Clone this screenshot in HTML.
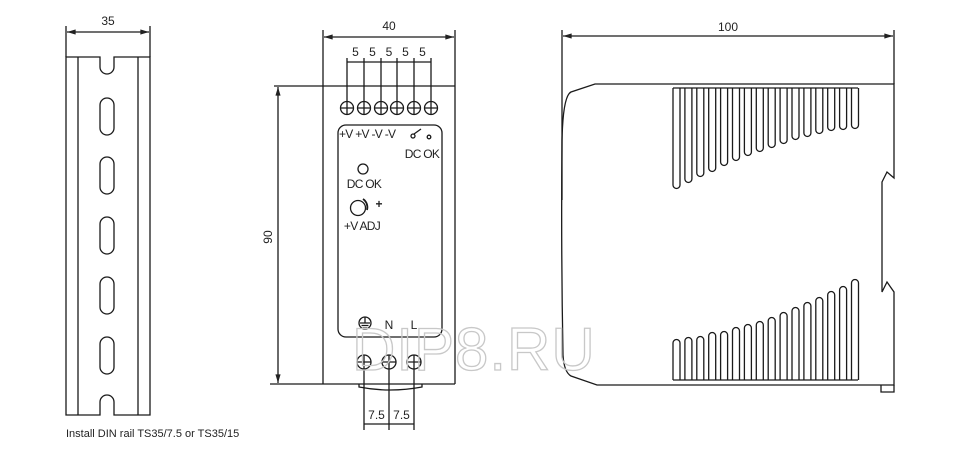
<!DOCTYPE html>
<html><head><meta charset="utf-8"><style>
html,body{margin:0;padding:0;background:#fff;}
svg{display:block;}
text{font-family:"Liberation Sans",Arial,sans-serif;fill:#222;}
</style></head><body>
<svg width="956" height="459" viewBox="0 0 956 459" xmlns="http://www.w3.org/2000/svg">
<defs>
<marker id="ar" viewBox="0 0 10 6" refX="10" refY="3" markerWidth="8" markerHeight="4" orient="auto-start-reverse"><path d="M0,0 L10,3 L0,6 z" fill="#222"/></marker>
</defs>
<g stroke="#1a1a1a" stroke-width="1.3" fill="none">
<!-- DIN rail -->
<line x1="66" y1="26" x2="66" y2="57"/><line x1="150" y1="26" x2="150" y2="57"/>
<line x1="67" y1="32" x2="149" y2="32" marker-start="url(#ar)" marker-end="url(#ar)"/>
<path d="M66,57 H100 V67 A7,7 0 0 0 114,67 V57 H150 V415 H114 V402 A7,7 0 0 0 100,402 V415 H66 Z"/>
<line x1="78" y1="57" x2="78" y2="415"/><line x1="138" y1="57" x2="138" y2="415"/>
<rect x="100" y="98" width="14" height="37" rx="7"/>
<rect x="100" y="157" width="14" height="37" rx="7"/>
<rect x="100" y="217" width="14" height="37" rx="7"/>
<rect x="100" y="277" width="14" height="37" rx="7"/>
<rect x="100" y="337" width="14" height="37" rx="7"/>

<!-- Front view -->
<line x1="323" y1="30" x2="323" y2="384"/>
<line x1="455" y1="30" x2="455" y2="384"/>
<line x1="324" y1="37" x2="454" y2="37" marker-start="url(#ar)" marker-end="url(#ar)"/>
<line x1="274" y1="86" x2="455" y2="86"/>
<line x1="270" y1="384" x2="323" y2="384"/>
<line x1="278" y1="87" x2="278" y2="383" marker-start="url(#ar)" marker-end="url(#ar)"/>
<path d="M323,384 H455"/>
<path d="M359,384 V387 Q390,393 422,387 V384"/>
<g>
<line x1="347" y1="58" x2="347" y2="101"/><line x1="364" y1="58" x2="364" y2="101"/>
<line x1="381" y1="58" x2="381" y2="101"/><line x1="397" y1="58" x2="397" y2="101"/>
<line x1="414" y1="58" x2="414" y2="101"/><line x1="431" y1="58" x2="431" y2="101"/>
<line x1="347" y1="62" x2="431" y2="62"/>
</g>
<g>
<circle cx="347" cy="108" r="6.5"/><path d="M340.5,108H353.5M347,101.5V114.5"/>
<circle cx="364" cy="108" r="6.5"/><path d="M357.5,108H370.5M364,101.5V114.5"/>
<circle cx="381" cy="108" r="6.5"/><path d="M374.5,108H387.5M381,101.5V114.5"/>
<circle cx="397" cy="108" r="6.5"/><path d="M390.5,108H403.5M397,101.5V114.5"/>
<circle cx="414" cy="108" r="6.5"/><path d="M407.5,108H420.5M414,101.5V114.5"/>
<circle cx="431" cy="108" r="6.5"/><path d="M424.5,108H437.5M431,101.5V114.5"/>
</g>
<rect x="338" y="125" width="104" height="212" rx="8"/>
<circle cx="413" cy="136" r="2"/><line x1="414" y1="134" x2="421" y2="129"/><circle cx="429" cy="137" r="1.8"/>
<circle cx="363" cy="169" r="5"/>
<circle cx="358" cy="208" r="7.5"/>
<path d="M363,199 A10,10 0 0 1 367,210" stroke-width="1.8"/>
<circle cx="364" cy="362" r="7"/><path d="M357,362H371M364,355V369"/>
<circle cx="389" cy="362" r="7"/><path d="M382,362H396M389,355V369"/>
<circle cx="414" cy="362" r="7"/><path d="M407,362H421M414,355V369"/>
<circle cx="365" cy="323" r="6"/><path d="M360,323H370M361.5,325.5H368.5M363,328H367M365,317V323"/>
<line x1="364" y1="369" x2="364" y2="430"/><line x1="389" y1="369" x2="389" y2="430"/><line x1="414" y1="369" x2="414" y2="430"/>
<line x1="364" y1="424" x2="414" y2="424"/>

<!-- Side view -->
<line x1="562" y1="30" x2="562" y2="200"/><line x1="894" y1="30" x2="894" y2="84"/>
<line x1="563" y1="36" x2="893" y2="36" marker-start="url(#ar)" marker-end="url(#ar)"/>
<path d="M673,84 H595 L571,92 Q563,96 562,140 Q561,250 563,355 Q564,372 571,376 L597,385 H673"/>
<path d="M855,84 H894 V178 L887,172 L882,182 V292 L887,282 L894,292 V385 H855"/>
<path d="M881,385 V392 H894 V385"/>
<line x1="673" y1="84" x2="855" y2="84"/>
<line x1="673" y1="385" x2="855" y2="385"/>
<line x1="673" y1="88" x2="858" y2="88"/>
<line x1="673" y1="380" x2="858" y2="380"/>
<g>
<path d="M673,88V185A3.5,3.5 0 0 0 680,185V88"/>
<path d="M684.9,88V179A3.5,3.5 0 0 0 691.9,179V88"/>
<path d="M696.8,88V173A3.5,3.5 0 0 0 703.8,173V88"/>
<path d="M708.7,88V168A3.5,3.5 0 0 0 715.7,168V88"/>
<path d="M720.6,88V162A3.5,3.5 0 0 0 727.6,162V88"/>
<path d="M732.5,88V157A3.5,3.5 0 0 0 739.5,157V88"/>
<path d="M744.4,88V152A3.5,3.5 0 0 0 751.4,152V88"/>
<path d="M756.3,88V148A3.5,3.5 0 0 0 763.3,148V88"/>
<path d="M768.2,88V144A3.5,3.5 0 0 0 775.2,144V88"/>
<path d="M780.1,88V140A3.5,3.5 0 0 0 787.1,140V88"/>
<path d="M792,88V136A3.5,3.5 0 0 0 799,136V88"/>
<path d="M803.9,88V133A3.5,3.5 0 0 0 810.9,133V88"/>
<path d="M815.8,88V130A3.5,3.5 0 0 0 822.8,130V88"/>
<path d="M827.7,88V127A3.5,3.5 0 0 0 834.7,127V88"/>
<path d="M839.6,88V126A3.5,3.5 0 0 0 846.6,126V88"/>
<path d="M851.5,88V125A3.5,3.5 0 0 0 858.5,125V88"/>
</g>
<g>
<path d="M673,380V343A3.5,3.5 0 0 1 680,343V380"/>
<path d="M684.9,380V341A3.5,3.5 0 0 1 691.9,341V380"/>
<path d="M696.8,380V340A3.5,3.5 0 0 1 703.8,340V380"/>
<path d="M708.7,380V336A3.5,3.5 0 0 1 715.7,336V380"/>
<path d="M720.6,380V335A3.5,3.5 0 0 1 727.6,335V380"/>
<path d="M732.5,380V331A3.5,3.5 0 0 1 739.5,331V380"/>
<path d="M744.4,380V328A3.5,3.5 0 0 1 751.4,328V380"/>
<path d="M756.3,380V325A3.5,3.5 0 0 1 763.3,325V380"/>
<path d="M768.2,380V321A3.5,3.5 0 0 1 775.2,321V380"/>
<path d="M780.1,380V316A3.5,3.5 0 0 1 787.1,316V380"/>
<path d="M792,380V311A3.5,3.5 0 0 1 799,311V380"/>
<path d="M803.9,380V306A3.5,3.5 0 0 1 810.9,306V380"/>
<path d="M815.8,380V301A3.5,3.5 0 0 1 822.8,301V380"/>
<path d="M827.7,380V295A3.5,3.5 0 0 1 834.7,295V380"/>
<path d="M839.6,380V290A3.5,3.5 0 0 1 846.6,290V380"/>
<path d="M851.5,380V283A3.5,3.5 0 0 1 858.5,283V380"/>
</g>
</g>

<text x="352" y="370" font-size="60" style="fill:none;stroke:#c8c8c8;stroke-width:1.3;font-family:'Liberation Sans',sans-serif;letter-spacing:1px">DIP8.RU</text>

<g font-size="12">
<text x="108" y="25" text-anchor="middle">35</text>
<text x="389" y="30" text-anchor="middle">40</text>
<text x="728" y="31" text-anchor="middle">100</text>
<text x="272" y="237" text-anchor="middle" transform="rotate(-90 272 237)">90</text>
<text x="355.5" y="56" text-anchor="middle">5</text>
<text x="372.5" y="56" text-anchor="middle">5</text>
<text x="389" y="56" text-anchor="middle">5</text>
<text x="405.5" y="56" text-anchor="middle">5</text>
<text x="422.5" y="56" text-anchor="middle">5</text>
<text x="339" y="138" letter-spacing="-0.7">+V +V -V -V</text>
<text x="422" y="158" text-anchor="middle" letter-spacing="-0.7">DC OK</text>
<text x="364" y="188" text-anchor="middle" letter-spacing="-0.7">DC OK</text>
<text x="379" y="208" text-anchor="middle" font-weight="bold">+</text>
<text x="362" y="230" text-anchor="middle" letter-spacing="-0.7">+V ADJ</text>
<text x="389" y="329" text-anchor="middle">N</text>
<text x="414" y="329" text-anchor="middle">L</text>
<text x="376.5" y="419" text-anchor="middle">7.5</text>
<text x="401.5" y="419" text-anchor="middle">7.5</text>
<text x="66" y="437" font-size="11">Install DIN rail TS35/7.5 or TS35/15</text>
</g>
</svg>
</body></html>
